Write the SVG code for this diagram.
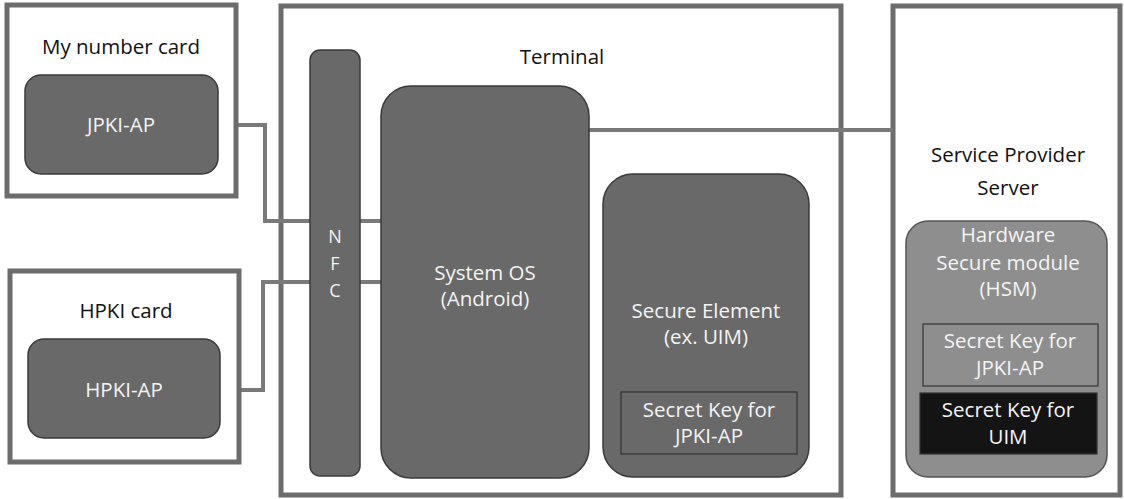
<svg xmlns="http://www.w3.org/2000/svg" width="1124" height="499" viewBox="0 0 1124 499">
<style>
.frame{fill:#fff;stroke:#6c6c6c;stroke-width:5}
.dark{fill:#696969;stroke:#3a3a3a;stroke-width:1.5}
.light{fill:#8e8e8e;stroke:#555;stroke-width:1.5}
.key{fill:none;stroke:#333;stroke-width:1.2}
.blk{fill:#141414;stroke:#333;stroke-width:1.2}
.conn{fill:none;stroke:#7a7a7a;stroke-width:4}
text{font-family:"Open Sans","Noto Sans",sans-serif;font-size:20.5px;text-anchor:middle}
.nfc{font-size:18px}
.b{fill:#111}
.w{fill:#f4f4f4}
</style>
<rect width="1124" height="499" fill="#fff"/>
<g id="terminal"><rect class="frame" x="281" y="6" width="560" height="489"/><text class="b" x="562" y="64">Terminal</text></g>
<g id="server"><rect class="frame" x="893" y="6" width="227" height="489"/><text class="b" x="1008" y="162">Service Provider</text><text class="b" x="1008" y="195">Server</text></g>
<g id="connectors">
<polyline class="conn" points="218,125 265,125 265,221 382,221"/>
<polyline class="conn" points="220,390 263,390 263,282 382,282"/>
<polyline class="conn" points="589,130 893,130"/>
</g>
<g id="mynumber"><rect class="frame" x="7" y="5" width="229" height="191"/><text class="b" x="121" y="54">My number card</text></g>
<g id="jpki-ap"><rect class="dark" x="25" y="75" width="193" height="99" rx="16"/><text class="w" x="121" y="132">JPKI-AP</text></g>
<g id="hpki"><rect class="frame" x="10" y="271" width="229" height="191"/><text class="b" x="126" y="318">HPKI card</text></g>
<g id="hpki-ap"><rect class="dark" x="28" y="339" width="192" height="99" rx="16"/><text class="w" x="124" y="397">HPKI-AP</text></g>
<g id="nfc"><rect class="dark" x="310" y="50" width="50" height="426" rx="10"/><text class="w nfc" x="335" y="243">N</text><text class="w nfc" x="335" y="270">F</text><text class="w nfc" x="335" y="297">C</text></g>
<g id="systemos"><rect class="dark" x="381" y="86" width="208" height="392" rx="30"/><text class="w" x="485" y="280">System OS</text><text class="w" x="485" y="306">(Android)</text></g>
<g id="se"><rect class="dark" x="603" y="174" width="206" height="303" rx="30"/><text class="w" x="706" y="318">Secure Element</text><text class="w" x="706" y="344">(ex. UIM)</text></g>
<g id="se-key"><rect class="key" x="621" y="392" width="176" height="62"/><text class="w" x="709" y="417">Secret Key for</text><text class="w" x="709" y="443">JPKI-AP</text></g>
<g id="hsm"><rect class="light" x="906" y="221" width="201" height="256" rx="22"/><text class="w" x="1008" y="242">Hardware</text><text class="w" x="1008" y="270">Secure module</text><text class="w" x="1008" y="296">(HSM)</text></g>
<g id="hsm-jpki"><rect class="key" x="923" y="324" width="175" height="62"/><text class="w" x="1010" y="348">Secret Key for</text><text class="w" x="1010" y="375">JPKI-AP</text></g>
<g id="hsm-uim"><rect class="blk" x="920" y="393" width="177" height="61"/><text class="w" x="1008" y="417">Secret Key for</text><text class="w" x="1008" y="444">UIM</text></g>
</svg>
